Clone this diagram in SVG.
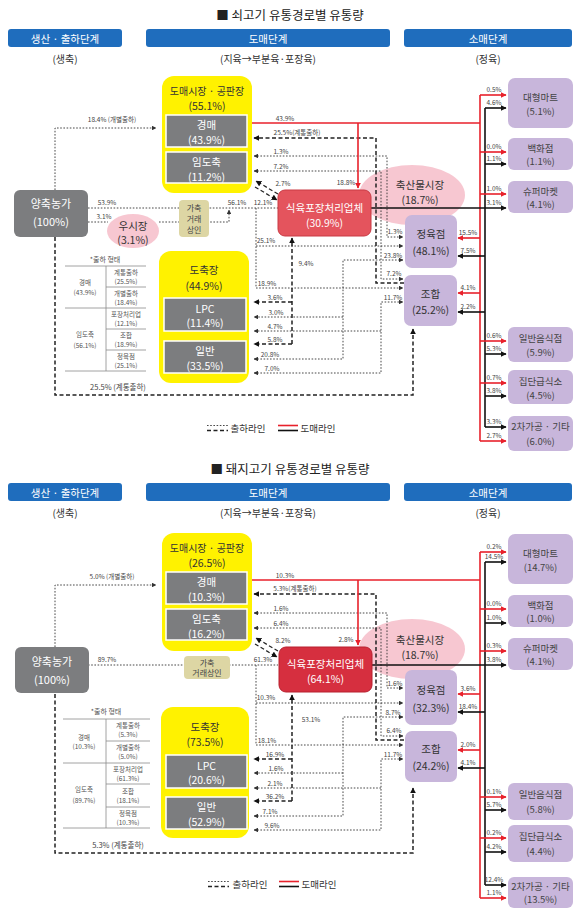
<svg xmlns="http://www.w3.org/2000/svg" width="580" height="916" viewBox="0 0 580 916">
<style>
text{font-family:"Noto Sans CJK KR","Noto Sans",sans-serif;text-anchor:middle;dominant-baseline:central}
.ttl{font-size:12.5px;fill:#222}
.hdr{fill:#1f6dbd}
.hd{font-size:10.5px;fill:#fff}
.sub{font-size:10px;fill:#333}
.nd{font-size:10.5px;fill:#333}
.sm{font-size:9.5px;fill:#444}
.w{fill:#fff}
.gray{fill:#7c7d7f;stroke:#fff;stroke-width:1.5}
.yel{fill:#fff200}
.pur{fill:#c8b6db}
.pink{fill:#f6c1cc;opacity:.9}
.deal{fill:#ddd6a4}
.lb{font-size:6.5px;fill:#444}
.tb{font-size:6.5px;fill:#555}
.tl{stroke:#8a8a8a;stroke-width:.8;fill:none}
.dot{fill:none;stroke:#333;stroke-width:.9;stroke-dasharray:1.6 1.6}
.dsh{fill:none;stroke:#222;stroke-width:1.5;stroke-dasharray:4 2.5}
.red{fill:none;stroke:#e8212b;stroke-width:1.6}
.blk{fill:none;stroke:#111;stroke-width:1.6}
</style>
<defs>
<marker id="ar" viewBox="0 0 10 10" refX="9" refY="5" markerWidth="6" markerHeight="6" markerUnits="userSpaceOnUse" orient="auto-start-reverse"><path d="M0,0L10,5L0,10z" fill="#e8212b"/></marker>
<marker id="ak" viewBox="0 0 10 10" refX="9" refY="5" markerWidth="6" markerHeight="6" markerUnits="userSpaceOnUse" orient="auto-start-reverse"><path d="M0,0L10,5L0,10z" fill="#111"/></marker>
<marker id="ad" viewBox="0 0 10 10" refX="9" refY="5" markerWidth="4.5" markerHeight="4.5" markerUnits="userSpaceOnUse" orient="auto-start-reverse"><path d="M0,0L10,5L0,10z" fill="#333"/></marker>
</defs>

<!-- ================= BEEF ================= -->
<g id="beef">
<text class="ttl" x="290" y="14">■ 쇠고기 유통경로별 유통량</text>
<g id="b-stage-prod"><rect class="hdr" x="8" y="29" width="114" height="18" rx="3"/><text class="hd" x="65" y="38">생산 · 출하단계</text></g>
<g id="b-stage-whole"><rect class="hdr" x="146" y="29" width="244" height="18" rx="3"/><text class="hd" x="268" y="38">도매단계</text></g>
<g id="b-stage-retail"><rect class="hdr" x="404" y="29" width="168" height="18" rx="3"/><text class="hd" x="488" y="38">소매단계</text></g>
<text class="sub" x="65" y="58">(생축)</text>
<text class="sub" x="268" y="58">(지육→부분육·포장육)</text>
<text class="sub" x="488" y="58">(정육)</text>

<g id="b-market"><ellipse class="pink" cx="412" cy="195" rx="53" ry="30"/><text class="nd" x="420" y="184">축산물시장</text><text class="nd" x="420" y="199">(18.7%)</text></g>

<g id="b-connectors">
<path class="dot" d="M55,190V128H156" marker-end="url(#ad)"/>
<path class="dot" d="M88,208H278"/>
<path class="dot" d="M88,222H108"/>
<path class="dot" d="M159,222H229V210" marker-end="url(#ad)"/>
<path class="dot" d="M256,208V288H403" marker-end="url(#ad)"/>
<path class="dot" d="M256,246H403" marker-end="url(#ad)"/>
<path class="dsh" d="M55,237V395H413V329" marker-end="url(#ak)"/>
<path class="dsh" d="M404,283H376V138H254" marker-end="url(#ak)"/>
<path class="dot" d="M254,156H387V237H403" marker-start="url(#ad)" marker-end="url(#ad)"/>
<path class="dot" d="M254,171H381V279H403" marker-start="url(#ad)" marker-end="url(#ad)"/>
<path class="dot" d="M254,359H343V260H403" marker-start="url(#ad)" marker-end="url(#ad)"/>
<path class="dot" d="M343,317H254" marker-end="url(#ad)"/>
<path class="dot" d="M254,373H381V302H403" marker-start="url(#ad)" marker-end="url(#ad)"/>
<path class="dot" d="M381,331H254" marker-end="url(#ad)"/>
<path class="dsh" d="M292,344V238" marker-end="url(#ak)"/>
<path class="dsh" d="M292,302H254" marker-end="url(#ak)"/>
<path class="dsh" d="M292,344H254" marker-end="url(#ak)"/>
<path class="dsh" d="M278,194L256,181" marker-end="url(#ak)" style="stroke-width:1.2"/>
<path class="dsh" d="M255,187L277,200" marker-end="url(#ak)" style="stroke-width:1.2"/>
<path class="red" d="M248,123H480"/>
<path class="red" d="M358,123V188" marker-end="url(#ar)"/>
<path class="red" d="M480,95V441"/>
<path class="blk" d="M485,108V427"/>
<path class="blk" d="M371,208H506" marker-end="url(#ak)"/>
<path class="red" d="M480,95H506" marker-end="url(#ar)"/>
<path class="red" d="M480,152H506" marker-end="url(#ar)"/>
<path class="red" d="M480,194H506" marker-end="url(#ar)"/>
<path class="red" d="M480,341H506" marker-end="url(#ar)"/>
<path class="red" d="M480,383H506" marker-end="url(#ar)"/>
<path class="red" d="M480,441H506" marker-end="url(#ar)"/>
<path class="blk" d="M485,108H506" marker-end="url(#ak)"/>
<path class="blk" d="M485,164H506" marker-end="url(#ak)"/>
<path class="blk" d="M485,354H506" marker-end="url(#ak)"/>
<path class="blk" d="M485,396H506" marker-end="url(#ak)"/>
<path class="blk" d="M485,427H506" marker-end="url(#ak)"/>
<path class="red" d="M480,238H458" marker-end="url(#ar)"/>
<path class="red" d="M480,293H458" marker-end="url(#ar)"/>
<path class="blk" d="M485,256H458" marker-end="url(#ak)"/>
<path class="blk" d="M485,312H458" marker-end="url(#ak)"/>
<g id="b-labels">
<text class="lb" x="112" y="119">18.4% (개별출하)</text>
<text class="lb" x="107" y="201.5">53.9%</text>
<text class="lb" x="104" y="216">3.1%</text>
<text class="lb" x="237" y="201.5">56.1%</text>
<text class="lb" x="263" y="201.5">12.1%</text>
<text class="lb" x="266" y="240">25.1%</text>
<text class="lb" x="267" y="283">18.9%</text>
<text class="lb" x="118" y="386" style="font-size:7.5px">25.5% (계통출하)</text>
<text class="lb" x="297" y="132">25.5%(계통출하)</text>
<text class="lb" x="281" y="151">1.3%</text>
<text class="lb" x="395" y="231">1.3%</text>
<text class="lb" x="281" y="166">7.2%</text>
<text class="lb" x="394" y="273">7.2%</text>
<text class="lb" x="393" y="254.5">23.8%</text>
<text class="lb" x="270" y="354">20.8%</text>
<text class="lb" x="276" y="312">3.0%</text>
<text class="lb" x="393" y="296.5">11.7%</text>
<text class="lb" x="272" y="368">7.0%</text>
<text class="lb" x="275" y="326">4.7%</text>
<text class="lb" x="306" y="263">9.4%</text>
<text class="lb" x="275" y="297">3.6%</text>
<text class="lb" x="275" y="339">5.8%</text>
<text class="lb" x="283" y="183">2.7%</text>
<text class="lb" x="285" y="118">43.9%</text>
<text class="lb" x="346" y="182">18.8%</text>
<text class="lb" x="494" y="89">0.5%</text>
<text class="lb" x="494" y="102">4.6%</text>
<text class="lb" x="494" y="146">0.0%</text>
<text class="lb" x="494" y="158">1.1%</text>
<text class="lb" x="494" y="188">1.0%</text>
<text class="lb" x="494" y="202">3.1%</text>
<text class="lb" x="468" y="232">15.5%</text>
<text class="lb" x="468" y="250">7.5%</text>
<text class="lb" x="468" y="287">4.1%</text>
<text class="lb" x="468" y="306">2.2%</text>
<text class="lb" x="494" y="335">0.6%</text>
<text class="lb" x="494" y="348">5.3%</text>
<text class="lb" x="494" y="377">0.7%</text>
<text class="lb" x="494" y="390">3.8%</text>
<text class="lb" x="494" y="421">3.3%</text>
<text class="lb" x="494" y="435">2.7%</text>
</g>
</g>

<g id="b-farm"><rect x="14" y="190" width="74" height="47" rx="6" fill="#7c7d7f"/><text class="nd w" x="51" y="203" style="font-size:11px">양축농가</text><text class="nd w" x="51" y="221" style="font-size:11px">(100%)</text></g>
<g id="b-usijang"><ellipse class="pink" cx="133" cy="231" rx="26" ry="17"/><text class="nd" x="133" y="225">우시장</text><text class="nd" x="133" y="239">(3.1%)</text></g>
<g id="b-dealer"><rect class="deal" x="179" y="200" width="30" height="37" rx="4"/><text class="lb" x="194" y="207" style="font-size:8px">가축</text><text class="lb" x="194" y="218" style="font-size:8px">거래</text><text class="lb" x="194" y="229" style="font-size:8px">상인</text></g>
<g id="b-wholesale"><rect class="yel" x="162" y="76" width="90" height="117" rx="12"/><text class="nd" x="207" y="90" style="font-size:10px">도매시장 · 공판장</text><text class="nd" x="207" y="105">(55.1%)</text>
<rect class="gray" x="166" y="115" width="81" height="32"/><text class="nd w" x="206.5" y="124">경매</text><text class="nd w" x="206.5" y="139">(43.9%)</text>
<rect class="gray" x="166" y="152" width="81" height="31"/><text class="nd w" x="206.5" y="161">임도축</text><text class="nd w" x="206.5" y="176">(11.2%)</text></g>
<g id="b-slaughter"><rect class="yel" x="159" y="251" width="90" height="132" rx="12"/><text class="nd" x="204" y="269">도축장</text><text class="nd" x="204" y="285">(44.9%)</text>
<rect class="gray" x="164" y="298" width="82" height="33"/><text class="nd w" x="205" y="308">LPC</text><text class="nd w" x="205" y="322">(11.4%)</text>
<rect class="gray" x="164" y="341" width="82" height="32"/><text class="nd w" x="205" y="350">일반</text><text class="nd w" x="205" y="365">(33.5%)</text></g>
<g id="b-processor"><rect x="278" y="190" width="93" height="46" rx="7" fill="#e4545d" stroke="#c93a44" stroke-width="1"/><text class="nd w" x="324.5" y="207">식육포장처리업체</text><text class="nd w" x="324.5" y="222">(30.9%)</text></g>
<g id="b-butcher"><rect class="pur" x="405" y="215" width="52" height="53" rx="7"/><text class="nd" x="431" y="233">정육점</text><text class="nd" x="431" y="250">(48.1%)</text></g>
<g id="b-coop"><rect class="pur" x="404" y="275" width="53" height="51" rx="7"/><text class="nd" x="430.5" y="293">조합</text><text class="nd" x="430.5" y="309">(25.2%)</text></g>
<g id="b-mart"><rect class="pur" x="508" y="78" width="65" height="50" rx="7"/><text class="sm" x="540.5" y="97">대형마트</text><text class="sm" x="540.5" y="111">(5.1%)</text></g>
<g id="b-dept"><rect class="pur" x="508" y="138" width="65" height="32" rx="6"/><text class="sm" x="540.5" y="147.5">백화점</text><text class="sm" x="540.5" y="161">(1.1%)</text></g>
<g id="b-super"><rect class="pur" x="508" y="181" width="65" height="32" rx="6"/><text class="sm" x="540.5" y="190.5">슈퍼마켓</text><text class="sm" x="540.5" y="204">(4.1%)</text></g>
<g id="b-rest"><rect class="pur" x="508" y="327" width="65" height="35" rx="6"/><text class="sm" x="540.5" y="337.5">일반음식점</text><text class="sm" x="540.5" y="352">(5.9%)</text></g>
<g id="b-cater"><rect class="pur" x="508" y="370" width="65" height="34" rx="6"/><text class="sm" x="540.5" y="380.5">집단급식소</text><text class="sm" x="540.5" y="395">(4.5%)</text></g>
<g id="b-other"><rect class="pur" x="508" y="416" width="65" height="35" rx="6"/><text class="sm" x="540.5" y="426">2차가공 · 기타</text><text class="sm" x="540.5" y="441">(6.0%)</text></g>

<g id="b-table">
<text class="tb" x="105" y="259" style="font-size:7px">*출하 형태</text>
<path class="tl" d="M65,266H146M106,287H146M65,308H146M106,329H146M106,350H146M65,371H146M106,266V371"/>
<text class="tb" x="85" y="282">경매</text><text class="tb" x="85" y="292">(43.9%)</text>
<text class="tb" x="85" y="334">임도축</text><text class="tb" x="85" y="345">(56.1%)</text>
<text class="tb" x="126" y="272">계통출하</text><text class="tb" x="126" y="281">(25.5%)</text>
<text class="tb" x="126" y="293">개별출하</text><text class="tb" x="126" y="302">(18.4%)</text>
<text class="tb" x="126" y="314">포장처리업</text><text class="tb" x="126" y="323">(12.1%)</text>
<text class="tb" x="126" y="335">조합</text><text class="tb" x="126" y="344">(18.9%)</text>
<text class="tb" x="126" y="356">정육점</text><text class="tb" x="126" y="365">(25.1%)</text>
</g>

<g id="b-legend">
<path class="dot" d="M207,425.5H228"/><path class="dsh" d="M207,430.5H228" style="stroke-width:1.3"/>
<text class="sub" x="248" y="428" style="font-size:9.5px">출하라인</text>
<path class="red" d="M278,425.5H298"/><path class="blk" d="M278,430.5H298"/>
<text class="sub" x="318" y="428" style="font-size:9.5px">도매라인</text>
</g>
</g>

<!-- ================= PORK ================= -->
<g id="pork" transform="translate(0,457)">
<text class="ttl" x="290" y="11">■ 돼지고기 유통경로별 유통량</text>
<g id="p-stage-prod"><rect class="hdr" x="8" y="26" width="114" height="18" rx="3"/><text class="hd" x="65" y="35">생산 · 출하단계</text></g>
<g id="p-stage-whole"><rect class="hdr" x="146" y="26" width="244" height="18" rx="3"/><text class="hd" x="268" y="35">도매단계</text></g>
<g id="p-stage-retail"><rect class="hdr" x="404" y="26" width="168" height="18" rx="3"/><text class="hd" x="488" y="35">소매단계</text></g>
<text class="sub" x="65" y="55">(생축)</text>
<text class="sub" x="268" y="55">(지육→부분육·포장육)</text>
<text class="sub" x="488" y="55">(정육)</text>

<g id="p-market"><ellipse class="pink" cx="412" cy="192" rx="53" ry="30"/><text class="nd" x="420" y="182">축산물시장</text><text class="nd" x="420" y="197">(18.7%)</text></g>

<g id="p-connectors">
<path class="dot" d="M55,190V128H156" marker-end="url(#ad)"/>
<path class="dot" d="M88,208H278"/>
<path class="dot" d="M256,208V288H403" marker-end="url(#ad)"/>
<path class="dot" d="M256,246H403" marker-end="url(#ad)"/>
<path class="dsh" d="M55,237V396H413V331" marker-end="url(#ak)"/>
<path class="dsh" d="M404,283H376V137H254" marker-end="url(#ak)"/>
<path class="dot" d="M254,156H387V231H403" marker-start="url(#ad)" marker-end="url(#ad)"/>
<path class="dot" d="M254,171H381V279H403" marker-start="url(#ad)" marker-end="url(#ad)"/>
<path class="dot" d="M254,359H343V260H403" marker-start="url(#ad)" marker-end="url(#ad)"/>
<path class="dot" d="M343,316H254" marker-end="url(#ad)"/>
<path class="dot" d="M254,373H381V302H403" marker-start="url(#ad)" marker-end="url(#ad)"/>
<path class="dot" d="M381,331H254" marker-end="url(#ad)"/>
<path class="dsh" d="M292,344V238" marker-end="url(#ak)"/>
<path class="dsh" d="M292,302H254" marker-end="url(#ak)"/>
<path class="dsh" d="M292,344H254" marker-end="url(#ak)"/>
<path class="dsh" d="M278,194L256,181" marker-end="url(#ak)" style="stroke-width:1.2"/>
<path class="dsh" d="M255,187L277,200" marker-end="url(#ak)" style="stroke-width:1.2"/>
<path class="red" d="M248,123H480"/>
<path class="red" d="M358,123V188" marker-end="url(#ar)"/>
<path class="red" d="M480,95V441"/>
<path class="blk" d="M485,105V428"/>
<path class="blk" d="M372,208H506" marker-end="url(#ak)"/>
<path class="red" d="M480,95H506" marker-end="url(#ar)"/>
<path class="red" d="M480,152H506" marker-end="url(#ar)"/>
<path class="red" d="M480,194H506" marker-end="url(#ar)"/>
<path class="red" d="M480,340H506" marker-end="url(#ar)"/>
<path class="red" d="M480,381H506" marker-end="url(#ar)"/>
<path class="red" d="M480,441H506" marker-end="url(#ar)"/>
<path class="blk" d="M485,105H506" marker-end="url(#ak)"/>
<path class="blk" d="M485,166H506" marker-end="url(#ak)"/>
<path class="blk" d="M485,353H506" marker-end="url(#ak)"/>
<path class="blk" d="M485,395H506" marker-end="url(#ak)"/>
<path class="blk" d="M485,428H506" marker-end="url(#ak)"/>
<path class="red" d="M480,237H458" marker-end="url(#ar)"/>
<path class="red" d="M480,293H458" marker-end="url(#ar)"/>
<path class="blk" d="M485,255H458" marker-end="url(#ak)"/>
<path class="blk" d="M485,311H458" marker-end="url(#ak)"/>
<g id="p-labels">
<text class="lb" x="112" y="119">5.0% (개별출하)</text>
<text class="lb" x="107" y="201.5">89.7%</text>
<text class="lb" x="263" y="201.5">61.3%</text>
<text class="lb" x="266" y="240">10.3%</text>
<text class="lb" x="267" y="283">18.1%</text>
<text class="lb" x="118" y="387" style="font-size:7.5px">5.3% (계통출하)</text>
<text class="lb" x="295" y="131">5.3%(계통출하)</text>
<text class="lb" x="281" y="151">1.6%</text>
<text class="lb" x="395" y="226">1.6%</text>
<text class="lb" x="281" y="166">6.4%</text>
<text class="lb" x="394" y="273">6.4%</text>
<text class="lb" x="393" y="254.5">8.7%</text>
<text class="lb" x="270" y="354">7.1%</text>
<text class="lb" x="276" y="311">1.6%</text>
<text class="lb" x="393" y="296.5">11.7%</text>
<text class="lb" x="272" y="368">9.6%</text>
<text class="lb" x="275" y="326">2.1%</text>
<text class="lb" x="311" y="262">53.1%</text>
<text class="lb" x="275" y="297">16.9%</text>
<text class="lb" x="275" y="339">36.2%</text>
<text class="lb" x="283" y="183">8.2%</text>
<text class="lb" x="285" y="118">10.3%</text>
<text class="lb" x="346" y="182">2.8%</text>
<text class="lb" x="494" y="89">0.2%</text>
<text class="lb" x="494" y="99">14.5%</text>
<text class="lb" x="494" y="146">0.0%</text>
<text class="lb" x="494" y="160">1.0%</text>
<text class="lb" x="494" y="188">0.3%</text>
<text class="lb" x="494" y="202">3.8%</text>
<text class="lb" x="468" y="231">3.6%</text>
<text class="lb" x="468" y="249">18.4%</text>
<text class="lb" x="468" y="287">2.0%</text>
<text class="lb" x="468" y="305">4.1%</text>
<text class="lb" x="494" y="334">0.1%</text>
<text class="lb" x="494" y="347">5.7%</text>
<text class="lb" x="494" y="375">0.2%</text>
<text class="lb" x="494" y="389">4.2%</text>
<text class="lb" x="494" y="422">12.4%</text>
<text class="lb" x="494" y="435">1.1%</text>
</g>
</g>

<g id="p-farm"><rect x="15" y="190" width="74" height="46" rx="6" fill="#7c7d7f"/><text class="nd w" x="52" y="204" style="font-size:11px">양축농가</text><text class="nd w" x="52" y="222" style="font-size:11px">(100%)</text></g>
<g id="p-dealer"><rect class="deal" x="184" y="199" width="46" height="23" rx="4"/><text class="lb" x="207" y="205" style="font-size:8px">가축</text><text class="lb" x="207" y="215.5" style="font-size:8px">거래상인</text></g>
<g id="p-wholesale"><rect class="yel" x="162" y="76" width="90" height="118" rx="12"/><text class="nd" x="207" y="90" style="font-size:10px">도매시장 · 공판장</text><text class="nd" x="207" y="105">(26.5%)</text>
<rect class="gray" x="166" y="115" width="81" height="32"/><text class="nd w" x="206.5" y="124">경매</text><text class="nd w" x="206.5" y="139">(10.3%)</text>
<rect class="gray" x="166" y="152" width="81" height="31"/><text class="nd w" x="206.5" y="161">임도축</text><text class="nd w" x="206.5" y="176">(16.2%)</text></g>
<g id="p-slaughter"><rect class="yel" x="161" y="250" width="88" height="131" rx="12"/><text class="nd" x="205" y="269">도축장</text><text class="nd" x="205" y="284">(73.5%)</text>
<rect class="gray" x="166" y="298" width="81" height="33"/><text class="nd w" x="206.5" y="308">LPC</text><text class="nd w" x="206.5" y="322">(20.6%)</text>
<rect class="gray" x="166" y="340" width="81" height="32"/><text class="nd w" x="206.5" y="349">일반</text><text class="nd w" x="206.5" y="364">(52.9%)</text></g>
<g id="p-processor"><rect x="279" y="190" width="93" height="45" rx="7" fill="#d62f3f" stroke="#b8202f" stroke-width="1"/><text class="nd w" x="325.5" y="206">식육포장처리업체</text><text class="nd w" x="325.5" y="221">(64.1%)</text></g>
<g id="p-butcher"><rect class="pur" x="405" y="213" width="52" height="55" rx="7"/><text class="nd" x="431" y="232">정육점</text><text class="nd" x="431" y="250">(32.3%)</text></g>
<g id="p-coop"><rect class="pur" x="405" y="274" width="52" height="51" rx="7"/><text class="nd" x="431" y="291">조합</text><text class="nd" x="431" y="308">(24.2%)</text></g>
<g id="p-mart"><rect class="pur" x="508" y="77" width="65" height="50" rx="7"/><text class="sm" x="540.5" y="96">대형마트</text><text class="sm" x="540.5" y="110">(14.7%)</text></g>
<g id="p-dept"><rect class="pur" x="508" y="138" width="65" height="32" rx="6"/><text class="sm" x="540.5" y="147.5">백화점</text><text class="sm" x="540.5" y="161">(1.0%)</text></g>
<g id="p-super"><rect class="pur" x="508" y="181" width="65" height="32" rx="6"/><text class="sm" x="540.5" y="190.5">슈퍼마켓</text><text class="sm" x="540.5" y="204">(4.1%)</text></g>
<g id="p-rest"><rect class="pur" x="508" y="326" width="65" height="37" rx="6"/><text class="sm" x="540.5" y="337">일반음식점</text><text class="sm" x="540.5" y="352">(5.8%)</text></g>
<g id="p-cater"><rect class="pur" x="508" y="368" width="65" height="37" rx="6"/><text class="sm" x="540.5" y="379">집단급식소</text><text class="sm" x="540.5" y="394">(4.4%)</text></g>
<g id="p-other"><rect class="pur" x="508" y="420" width="65" height="31" rx="6"/><text class="sm" x="540.5" y="428.5">2차가공 · 기타</text><text class="sm" x="540.5" y="442">(13.5%)</text></g>

<g id="p-table">
<text class="tb" x="106" y="254" style="font-size:7px">*출하 형태</text>
<path class="tl" d="M63,262H150M106,284H150M63,306H150M106,327H150M106,350H150M63,371H150M106,262V371"/>
<text class="tb" x="84" y="280">경매</text><text class="tb" x="84" y="289">(10.3%)</text>
<text class="tb" x="84" y="332">임도축</text><text class="tb" x="84" y="343">(89.7%)</text>
<text class="tb" x="128" y="268">계통출하</text><text class="tb" x="128" y="277">(5.3%)</text>
<text class="tb" x="128" y="290">개별출하</text><text class="tb" x="128" y="299">(5.0%)</text>
<text class="tb" x="128" y="312">포장처리업</text><text class="tb" x="128" y="321">(61.3%)</text>
<text class="tb" x="128" y="334">조합</text><text class="tb" x="128" y="343">(18.1%)</text>
<text class="tb" x="128" y="356">정육점</text><text class="tb" x="128" y="365">(10.3%)</text>
</g>

<g id="p-legend">
<path class="dot" d="M208,424.5H229"/><path class="dsh" d="M208,429.5H229" style="stroke-width:1.3"/>
<text class="sub" x="250" y="427" style="font-size:9.5px">출하라인</text>
<path class="red" d="M279,424.5H299"/><path class="blk" d="M279,429.5H299"/>
<text class="sub" x="319" y="427" style="font-size:9.5px">도매라인</text>
</g>
</g>
</svg>
